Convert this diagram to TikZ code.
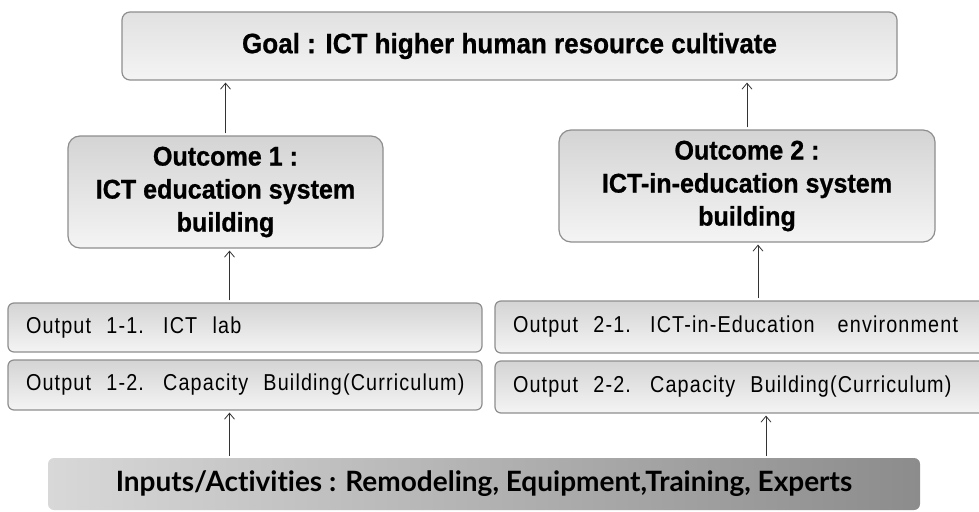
\documentclass[tikz,border=0pt]{standalone}
\usepackage{fontspec}
\usepackage{tikz}
\usetikzlibrary{positioning,calc,arrows.meta}
\newfontfamily\headfont[FakeStretch=0.93,BoldFeatures={FakeBold=0.8}]{Liberation Sans}
\newfontfamily\outfont[FakeStretch=0.86,LetterSpace=5]{Liberation Sans}
\newfontfamily\inputfont[Ligatures={NoCommon,NoRare,NoContextual}]{Lato}
\definecolor{boxline}{HTML}{8E8E8E}
\definecolor{boxtop}{HTML}{D4D4D4}
\definecolor{boxbot}{HTML}{F4F4F4}
\definecolor{barleft}{HTML}{D8D8D8}
\definecolor{barright}{HTML}{8C8C8C}

\begin{document}
\begin{tikzpicture}[x=1pt, y=-1pt,
    goalbox/.style={draw=boxline, line width=1.2pt, rounded corners=8pt,
        top color=boxtop!70!white, bottom color=boxbot, inner sep=0pt,
        font=\headfont\bfseries\fontsize{28}{33}\selectfont},
    outcomebox/.style={goalbox, rounded corners=12pt, top color=boxtop,
        align=center, font=\headfont\bfseries\fontsize{27}{33}\selectfont},
    outputbox/.style={draw=boxline, line width=1.2pt, rounded corners=6pt,
        top color=boxtop, bottom color=boxbot, inner xsep=18pt, inner ysep=0pt,
        align=left, font=\outfont\fontsize{23}{26}\selectfont},
    inputbar/.style={draw=none, rounded corners=6pt,
        left color=barleft, right color=barright,
        font=\inputfont\bfseries\fontsize{28}{30}\selectfont},
    arr/.style={-{Straight Barb[length=6pt,width=10pt]}, line width=0.8pt,
        draw=black!80, shorten <=2pt, shorten >=2pt}]
    \clip (0,0) rectangle (979,511);

    % Goal
    \node[goalbox, minimum width=775pt, minimum height=68pt] (goal) at (509.5,46)
        {Goal : ICT higher human resource cultivate};

    % Outcomes
    \node[outcomebox, minimum width=315pt, minimum height=112pt] (oc1) at (225.5,192)
        {Outcome 1 :\\ICT education system\\building};
    \node[outcomebox, minimum width=376pt, minimum height=112pt] (oc2) at (747,186)
        {Outcome 2 :\\ICT-in-education system\\building};

    % Outputs
    \node[outputbox, minimum height=49pt, text width=438pt] (op11) at (245,327.5)
        {Output~ 1-1.~ ICT~ lab};
    \node[outputbox, minimum height=50pt, text width=438pt] (op12) at (245,385)
        {\mbox{Output~ 1-2.~ Capacity~ Building(Curriculum)}};
    \node[outputbox, minimum height=52pt, text width=454pt] (op21) at (740,327)
        {Output~ 2-1.~ ICT-in-Education~~ environment};
    \node[outputbox, minimum height=52pt, text width=454pt] (op22) at (740,387)
        {\mbox{Output~ 2-2.~ Capacity~ Building(Curriculum)}};

    % Inputs / activities
    \node[inputbar, minimum width=872pt, minimum height=52pt] (inp) at (484,484)
        {Inputs/Activities : Remodeling, Equipment,Training, Experts};

    % Arrows
    \draw[arr] (oc1.north) -- (oc1.north |- goal.south);
    \draw[arr] (oc2.north) -- (oc2.north |- goal.south);
    \draw[arr] ([xshift=4pt]oc1.south |- op11.north) -- ([xshift=4pt]oc1.south);
    \draw[arr] ([xshift=11pt]oc2.south |- op21.north) -- ([xshift=11pt]oc2.south);
    \draw[arr] ([xshift=4pt]oc1.south |- inp.north) -- ([xshift=4pt]oc1.south |- op12.south);
    \draw[arr] ([xshift=19pt]oc2.south |- inp.north) -- ([xshift=19pt]oc2.south |- op22.south);
\end{tikzpicture}
\end{document}
